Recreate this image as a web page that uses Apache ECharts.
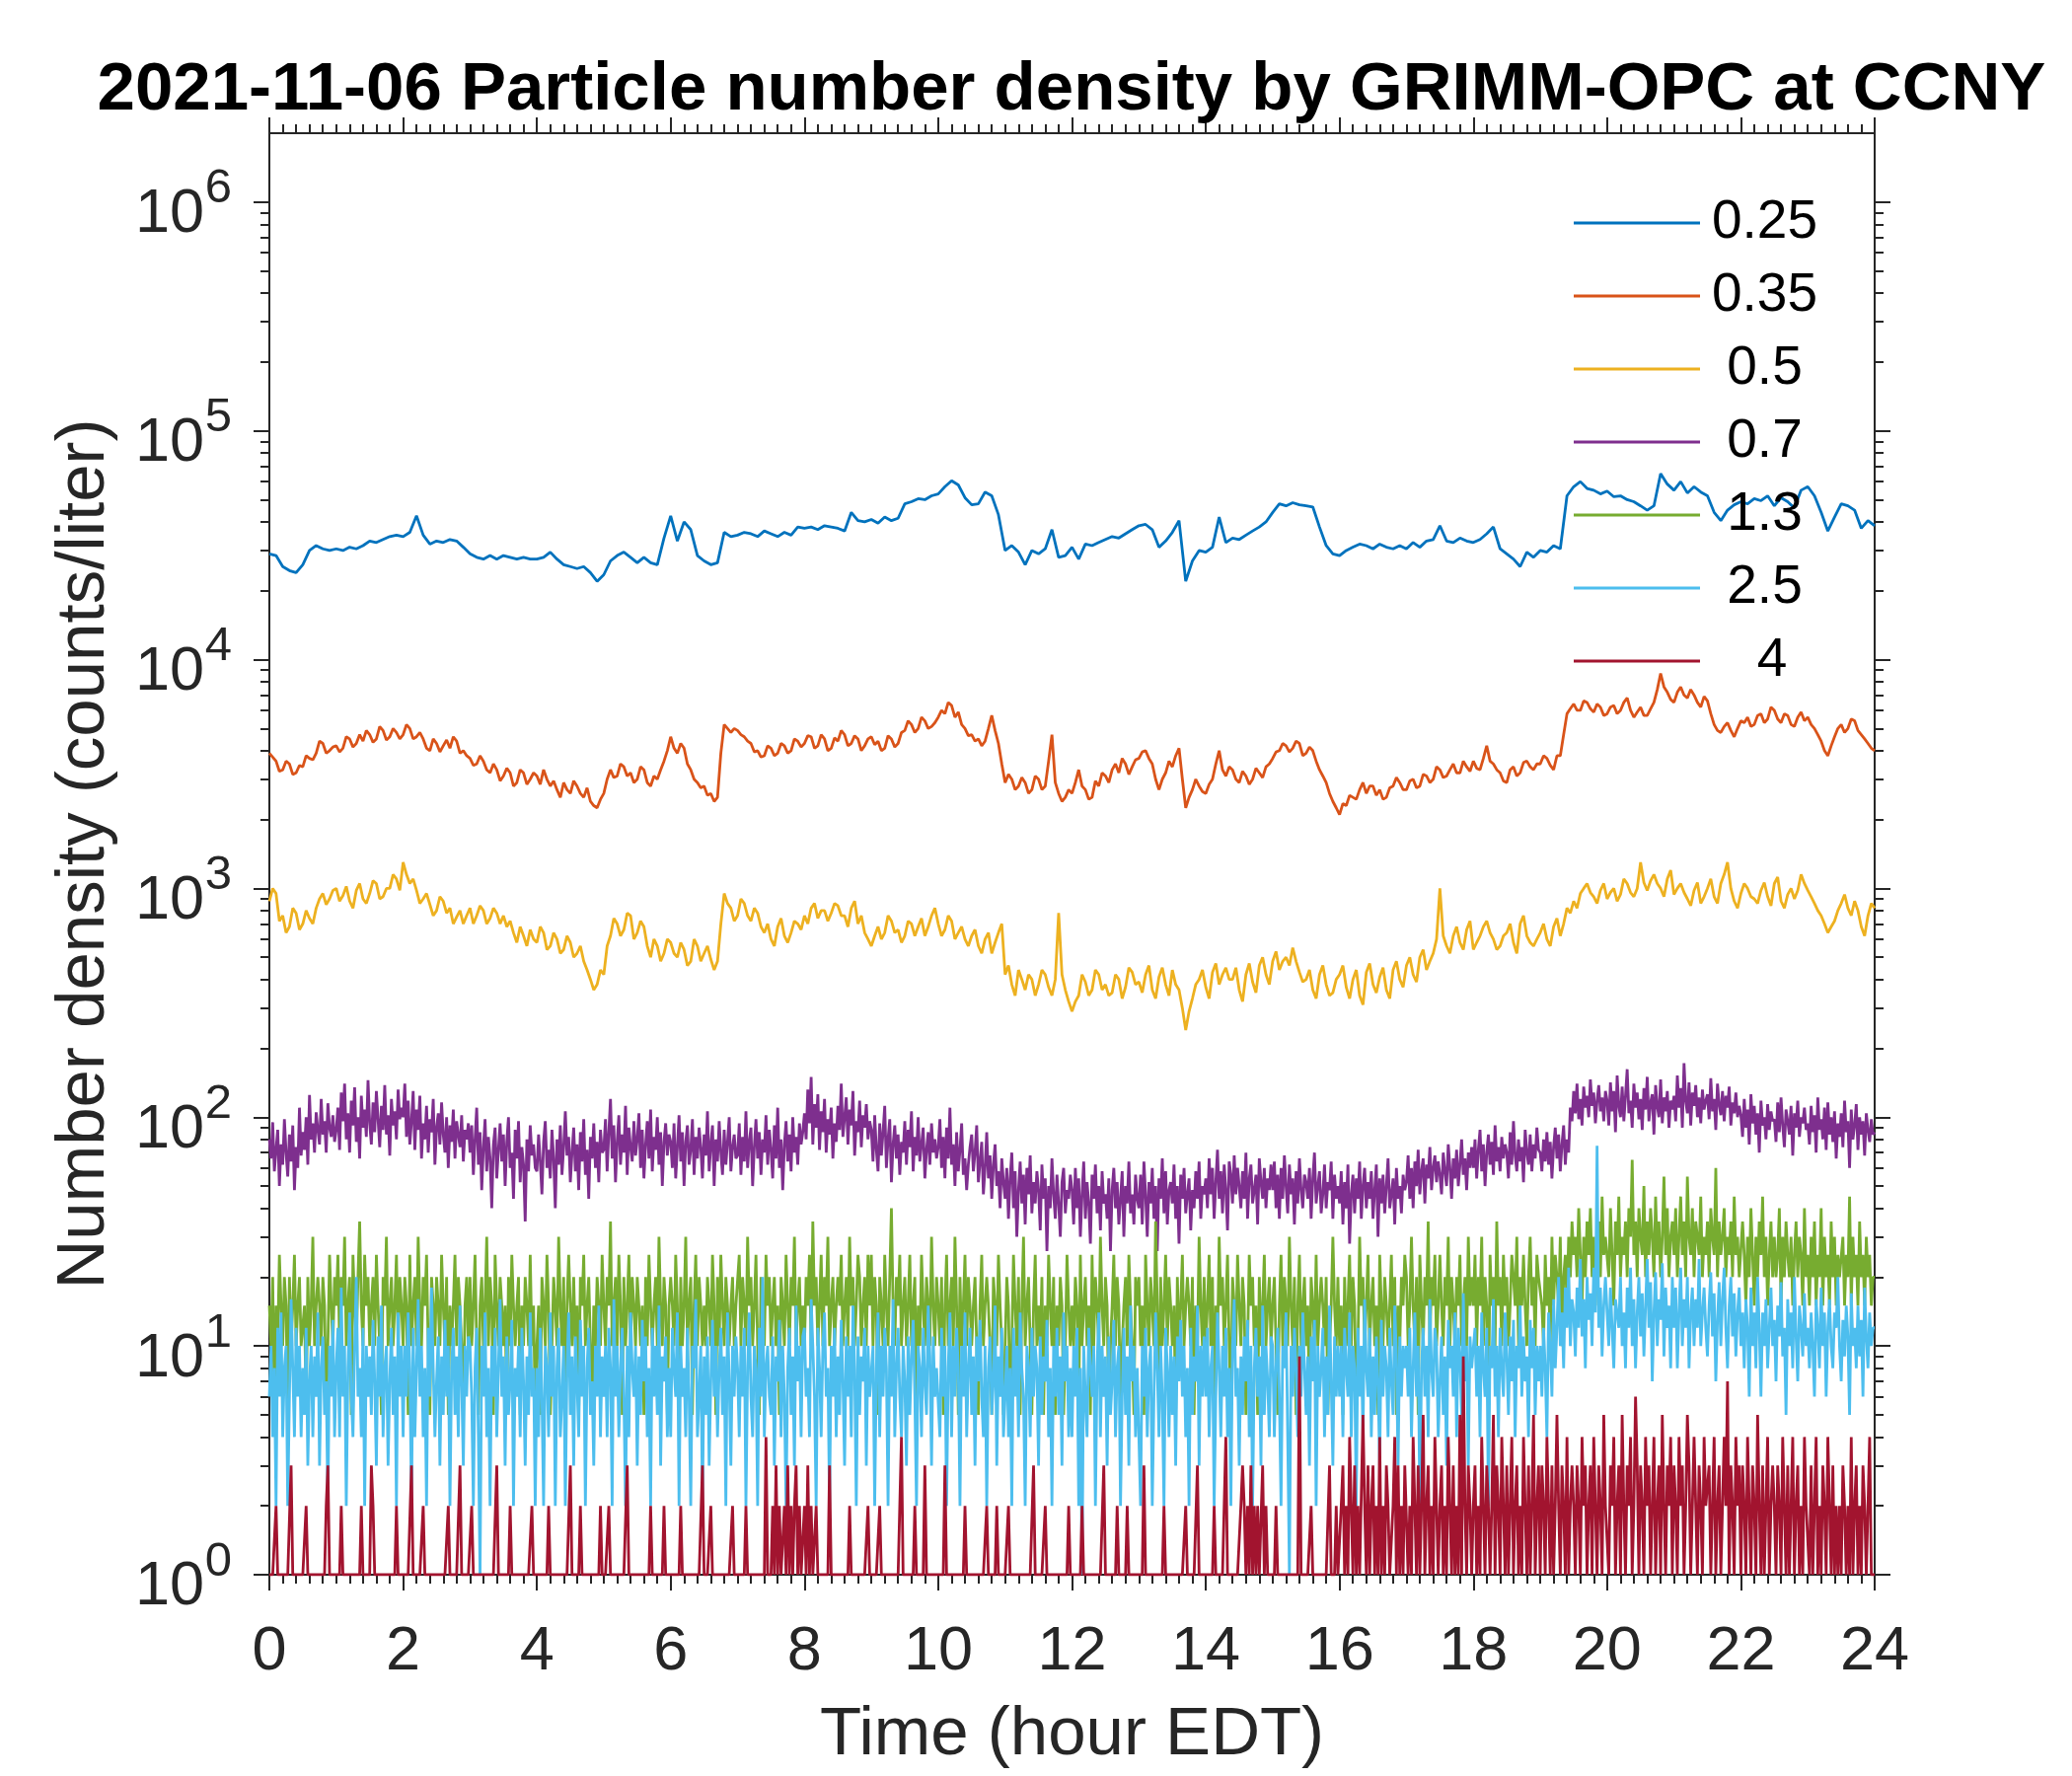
<!DOCTYPE html>
<html><head><meta charset="utf-8">
<script src="https://cdn.jsdelivr.net/npm/echarts@6.0.0/dist/echarts.min.js"></script>
<style>html,body{margin:0;padding:0;background:#fff}#c{width:2100px;height:1800px}</style>
</head><body><div id="c"></div><script>
// ---------- DATA ----------
// hours between successive samples of each channel (series order below)
const seriesSteps = [0.1, 0.05, 0.05, 0.025, 0.025, 0.025, 0.025];
const seriesNames = ['0.25', '0.35', ' 0.5', ' 0.7', ' 1.3', ' 2.5', '   4'];
const xTicks = [0, 2, 4, 6, 8, 10, 12, 14, 16, 18, 20, 22, 24];
const yMajorTicks = [1, 10, 100, 1000, 10000, 100000, 1000000];

const d025 = [
29000,28500,25500,24500,24000,26000,30000,31500,30500,30000,
30500,30000,31000,30500,31500,33000,32500,33500,34500,35000,
34500,36000,42500,35000,32000,33000,32500,33500,33000,31000,
29000,28000,27500,28500,27500,28500,28000,27500,28000,27500,
27500,28000,29500,27500,26000,25500,25000,25500,24000,22000,
23500,27000,28500,29500,28000,26500,28000,26500,26000,34000,
42500,33000,40000,37000,28500,27000,26000,26500,36000,34500,
35000,36000,35500,34500,36500,35500,34500,36000,35000,38000,
37500,38000,37000,38500,38000,37500,36500,44000,40500,40000,
41000,39500,42000,40500,41500,48000,49000,50500,50000,52000,
53000,57000,60500,58000,51000,47500,48000,54000,52000,43000,
30000,31500,29500,26000,30000,29000,30500,37000,28000,28500,
31000,27500,32000,31500,32500,33500,34500,34000,35500,37000,
38500,39000,37000,31000,33000,36000,40500,22000,27000,30000,
29500,31000,42000,32500,34000,33500,35000,36500,38000,40000,
44000,48000,47000,48500,47500,47000,46500,38000,31500,29000,
28500,30000,31000,32000,31500,30500,32000,31000,30500,31500,
30500,32500,31000,33000,33500,38500,33000,32500,34000,33000,
32500,33500,35500,38000,30500,29000,27500,25500,29500,28000,
30000,29500,31500,30500,52000,57000,60000,56000,55000,53000,
54500,51500,52000,50000,49000,47000,45000,47000,65000,58500,
55000,60000,53500,57000,54000,52000,44000,40500,45000,47500,
49000,48000,50500,49500,52000,47000,51000,49000,46000,55000,
57000,52000,44000,36500,42000,48000,47000,45000,37500,40500,
38500];

const d035 = [
3900,3750,3600,3250,3300,3600,3500,3150,3200,3450, 3400,3800,3700,3650,3900,4400,4300,3900,4000,4150,
4200,3950,4100,4600,4500,4150,4300,4700,4400,4900, 4700,4350,4500,5100,4900,4450,4600,5000,4800,4500,
4700,5200,5000,4500,4600,4800,4500,4100,4000,4500, 4300,3950,4200,4450,4100,4600,4400,3900,4000,3800,
3700,3450,3500,3800,3600,3300,3200,3500,3300,2950, 3100,3350,3200,2800,2900,3300,3200,2850,3000,3200,
3100,2850,3300,3000,2800,2950,2700,2500,2900,2700, 2600,2950,2800,2600,2500,2750,2400,2300,2250,2450,
2600,3000,3300,3050,3100,3500,3400,3100,3200,2900, 3000,3400,3300,2900,2800,3100,3000,3300,3600,4000,
4600,4100,3900,4300,4100,3500,3300,3000,2900,2750, 2800,2550,2600,2400,2500,3900,5200,5000,4800,5000,
4900,4700,4600,4400,4300,3950,4000,3750,3800,4200, 4100,3800,3900,4300,4200,3900,4000,4500,4400,4150,
4300,4650,4600,4100,4200,4700,4500,4000,4100,4550, 4400,4900,4700,4200,4300,4650,4500,4000,4200,4500,
4600,4250,4400,4000,4100,4650,4500,4150,4300,4800, 4900,5400,5200,4800,5000,5600,5400,5000,5100,5300,
5600,6000,5800,6500,6300,5600,5900,5200,5000,4650, 4700,4400,4500,4200,4400,5000,5700,4900,4300,3500,
2900,3150,3000,2700,2800,3050,2900,2600,2700,3100, 3000,2700,2800,3600,4700,2900,2600,2400,2500,2700,
2600,2900,3300,2800,2700,2450,2500,2950,2800,3200, 3100,2900,3300,3500,3200,3700,3500,3150,3400,3650,
3700,3950,4000,3700,3500,3000,2700,3000,3200,3600, 3400,3800,4100,3000,2250,2500,2700,3000,2800,2650,
2600,2850,3000,3500,4000,3300,3100,3400,3300,3000, 2900,3250,3100,2850,3000,3350,3200,3050,3400,3500,
3700,3950,4000,4300,4200,3950,4100,4400,4300,3800, 3900,4150,4000,3600,3300,3100,2900,2600,2400,2250,
2100,2350,2300,2550,2500,2450,2700,2900,2600,2800, 2800,2550,2700,2450,2500,2750,2800,3050,2900,2700,
2700,2950,3000,2750,2800,3150,3100,2900,3000,3400, 3300,3050,3100,3300,3500,3200,3200,3600,3400,3250,
3600,3350,3300,3700,4200,3600,3500,3300,3200,2950, 2900,3300,3400,3100,3200,3550,3600,3400,3300,3500,
3500,3800,3700,3450,3300,3800,3800,4700,5800,6100, 6400,6000,6000,6600,6500,6100,5900,6400,6200,5700,
5800,6200,6300,5800,6000,6500,6800,6000,5600,5900, 6200,5700,5700,6100,6500,7400,8700,7600,7200,6700,
6500,7200,7600,7000,6800,7400,7000,6500,6200,6900, 6600,5800,5200,4900,4800,5100,5300,4900,4600,5000,
5400,5300,5600,5100,5200,5700,5800,5300,5500,6200, 6000,5500,5300,5800,5700,5200,5100,5600,5900,5400,
5600,5200,5000,4700,4400,4000,3800,4200,4600,5000, 5200,4800,5000,5500,5400,4900,4700,4500,4300,4100,
4000];

const d05 = [
880,1000,950,720,760,640,680,820,780,660, 700,800,740,700,820,900,950,850,900,980,
1000,880,930,1020,880,820,980,1050,900,860, 950,1080,1050,900,920,1000,1000,1150,1100,980,
1300,1150,1050,1100,980,860,900,950,850,760, 800,920,880,780,820,700,750,800,700,760,
820,700,760,840,800,700,740,820,780,700, 760,680,720,640,580,680,620,560,660,600,
580,680,640,540,560,640,600,520,540,620, 580,500,520,560,480,440,400,360,380,440,
420,560,620,740,700,620,660,780,760,600, 640,720,680,560,500,600,560,480,520,600,
580,520,500,580,540,460,480,600,560,480, 520,560,490,440,480,700,950,860,820,720,
760,900,860,760,720,820,780,680,640,700, 600,560,680,740,620,580,640,720,700,660,
760,700,820,860,740,800,800,720,780,860, 840,760,760,680,820,880,700,760,640,600,
560,620,680,600,640,760,720,640,660,580, 620,720,700,620,680,740,620,680,760,820,
700,620,660,760,720,600,640,680,600,560, 620,660,560,520,600,640,520,580,640,700,
420,460,380,340,440,400,360,420,400,340, 380,440,420,370,340,400,780,420,360,320,
290,320,340,420,390,340,360,440,420,360, 380,340,350,420,400,330,370,450,430,380,
390,350,420,460,360,330,410,450,380,340, 440,380,360,300,240,290,330,380,400,440,
370,330,430,470,380,420,450,400,400,450, 360,320,420,470,390,350,460,500,420,380,
480,530,440,480,500,460,550,480,430,390, 400,440,360,330,420,460,380,340,350,400,
420,460,370,330,400,440,340,310,430,470, 380,350,410,450,360,330,440,480,400,370,
460,500,420,390,500,540,440,480,520,600, 1000,620,560,520,620,680,580,540,660,720,
540,580,620,680,720,640,600,540,560,620, 640,700,580,520,700,760,620,580,560,600,
640,700,600,560,680,740,620,700,820,780, 880,820,950,1000,1050,960,920,860,980,1050,
900,960,1000,880,940,1100,1050,960,920,1000, 1300,1060,980,1080,1150,1050,1000,920,1100,1200,
940,1000,1050,960,900,840,980,1060,860,920, 1000,1100,920,860,1050,1150,1300,1000,880,820,
950,1050,1000,920,900,860,980,1060,920,840, 1050,1120,880,820,940,1000,900,980,1150,1050,
980,920,860,800,760,700,640,680,720,800, 860,940,820,760,880,800,680,620,760,860,
820];

const d07 = [
80,66,95,58,72,88,50,76,62,98, 70,55,84,64,92,48,74,60,110,68, 86,72,100,62,125,80,94,70,105,88, 76,120,84,96,70,115,90,82,102,78,
88,110,72,128,96,140,80,104,70,118, 92,135,78,100,66,124,90,108,82,145, 94,76,116,86,130,98,74,112,88,138, 84,102,68,120,92,106,80,132,98,110,
100,140,82,118,76,96,130,72,108,88, 124,66,94,80,112,70,98,86,120,62, 90,104,76,116,84,70,100,60,92,78, 108,66,96,84,74,102,64,88,80,94,
70,92,56,80,110,62,86,48,74,98, 58,82,66,40,76,90,54,72,94,64, 84,50,78,100,60,70,44,88,66,96, 52,74,62,35,80,58,92,68,76,60,
58,84,64,46,78,96,60,72,54,88, 66,40,80,62,92,56,74,106,68,82, 52,70,90,58,76,48,86,64,98,56, 72,44,82,66,94,60,78,52,88,70,
72,98,58,86,120,66,92,52,78,102, 62,84,70,112,56,90,74,64,96,68, 80,104,60,88,54,76,96,66,108,58, 82,72,100,62,86,50,78,94,68,84,
78,60,94,54,74,102,64,86,50,78, 92,62,72,98,56,82,66,90,74,54, 84,68,106,58,76,92,50,80,64,96, 70,56,88,62,78,100,58,74,84,66,
68,94,56,82,64,106,60,78,90,50, 74,98,66,86,56,80,70,102,62,88, 72,54,92,66,110,60,80,48,76,96, 64,84,58,100,70,82,62,94,76,86,
104,80,132,94,150,76,114,90,126,72, 106,86,120,70,98,84,110,66,94,78, 112,88,140,82,100,122,76,108,92,130, 68,96,86,118,74,102,90,114,80,96,
88,64,102,72,58,94,68,86,112,60, 80,98,52,76,92,66,84,56,78,70, 96,62,88,74,106,58,82,68,100,64, 76,90,54,72,86,62,94,70,80,66,
74,98,60,82,54,90,66,110,62,76, 50,86,58,72,94,56,66,48,62,74, 84,58,70,92,52,64,78,46,60,86, 54,68,44,62,76,50,58,40,66,52,
44,60,36,54,70,40,58,30,48,64, 42,56,34,60,46,68,38,52,42,58, 48,32,62,44,54,26,50,40,66,46, 36,56,42,30,52,60,38,48,44,56,
48,34,60,40,54,30,46,64,36,52, 42,28,56,44,62,38,50,32,58,42, 46,36,54,26,48,60,40,52,34,44, 58,30,50,42,64,38,46,34,56,44,
40,56,34,64,46,30,52,42,60,36, 50,26,54,44,66,38,58,34,48,52, 42,62,36,50,28,56,44,60,38,46, 54,32,48,40,58,44,64,36,50,46,
54,40,66,46,60,36,52,72,44,58, 38,62,48,32,64,56,42,68,46,60, 50,40,58,44,70,36,54,62,42,48, 56,34,66,52,44,60,40,54,48,62,
48,64,40,56,36,60,44,68,50,38, 62,46,54,34,58,42,66,48,40,56, 52,44,60,36,54,70,42,50,58,38, 46,62,40,52,48,64,36,56,44,50,
42,58,34,52,40,62,28,46,56,38, 54,44,64,36,50,60,40,52,44,58, 36,48,62,30,54,42,56,38,50,66, 40,46,54,34,60,44,50,38,56,48,
52,68,44,60,40,64,50,72,46,58, 66,42,62,54,74,48,60,68,52,64, 56,46,70,58,50,76,60,44,66,54, 72,50,62,80,56,66,48,70,60,74,
60,80,54,72,88,58,76,50,70,84, 62,78,56,92,64,74,58,82,66,76, 70,54,86,62,96,68,58,80,64,74, 52,88,70,62,84,58,76,66,90,72,
70,58,80,64,86,62,78,54,74,90, 66,84,58,76,92,62,80,70,110,96, 130,104,140,98,120,92,136,110,124,100, 146,112,128,94,118,138,106,122,96,130,
118,92,142,106,130,86,152,112,100,136, 96,124,162,104,118,90,140,110,128,98, 120,88,134,108,150,96,116,126,84,138, 112,100,146,94,122,106,130,90,118,108,
124,96,152,110,134,90,172,118,104,142, 92,128,112,138,100,122,94,132,108,118, 126,98,148,106,120,88,140,114,102,130, 96,124,110,136,92,116,104,128,100,112,
102,82,120,90,108,76,126,94,112,84, 104,70,118,92,100,80,114,88,106,96, 98,78,116,86,122,92,74,108,96,84, 112,68,104,90,118,82,100,94,110,88,
94,76,112,86,102,70,122,88,98,80, 110,72,116,84,100,78,106,66,94,82, 104,74,118,86,96,60,108,80,92,114, 72,100,84,96,68,104,88,78,98,84,
86];

const d13 = [
15,10,20,5,15,10,25,15,10,20, 15,5,20,10,15,25,10,15,20,10, 10,15,5,20,10,15,30,10,15,20, 15,10,20,15,5,10,25,15,10,20,
15,25,10,20,15,30,10,15,20,5, 25,15,10,20,35,15,10,25,15,20, 10,15,20,10,25,15,10,5,20,15, 30,10,15,20,10,15,25,10,20,15,
10,20,15,5,25,10,15,20,10,30, 15,10,20,15,25,10,5,20,15,10, 20,15,10,25,15,10,20,5,15,10, 15,25,10,20,15,10,5,15,20,10,
20,10,15,25,10,5,15,20,10,15, 30,10,20,15,5,25,15,10,20,15, 10,15,5,20,10,25,15,10,15,20, 5,15,10,20,15,10,25,10,15,5,
10,15,5,20,15,10,25,15,5,10, 20,15,10,30,15,10,20,5,15,25, 15,10,20,10,15,5,20,15,25,10, 15,20,10,5,15,10,20,15,10,25,
15,10,20,15,35,10,15,20,10,25, 15,5,20,10,15,25,10,20,15,10, 20,15,10,15,5,20,10,25,15,10, 15,20,10,30,15,10,20,15,5,15,
20,15,10,25,15,5,20,10,15,30, 10,15,20,5,15,25,10,20,15,10, 15,10,20,15,10,25,15,5,20,10, 25,15,10,20,15,10,15,20,10,15,
15,25,10,20,15,10,30,15,20,10, 15,25,10,5,20,15,10,25,15,20, 10,15,20,10,15,5,20,15,10,25, 15,10,20,15,30,10,15,20,10,15,
10,20,15,25,10,35,15,20,10,15, 25,10,20,15,30,10,15,20,10,15, 20,15,25,10,15,20,10,30,15,20, 10,15,25,20,10,15,20,10,25,15,
25,10,20,15,5,20,15,10,25,15, 10,20,40,15,10,20,15,25,10,15, 20,10,15,25,10,15,20,5,15,10, 25,15,10,20,15,10,30,15,10,20,
15,10,20,5,15,25,10,15,20,10, 30,15,5,20,10,15,25,10,20,15, 10,15,20,10,5,15,25,10,15,20, 15,10,5,20,15,10,25,15,10,5,
10,20,15,5,10,25,15,10,20,5, 15,30,10,15,20,10,5,15,25,10, 15,10,20,5,15,10,25,15,10,20, 5,15,10,20,15,5,10,25,15,10,
15,10,20,15,5,25,10,15,20,10, 15,5,25,10,20,15,10,30,15,10, 20,15,5,10,15,25,10,20,15,5, 10,15,20,10,25,15,10,5,20,15,
20,10,15,5,25,15,10,20,15,10, 35,15,5,20,10,15,25,10,20,15, 10,15,5,20,10,15,25,10,15,20, 15,10,20,5,15,10,30,15,10,20,
10,15,25,10,20,5,15,10,30,15, 20,10,15,25,10,5,20,15,10,25, 15,10,20,15,5,10,25,15,20,10, 15,5,20,10,15,25,10,15,20,10,
15,20,10,5,15,25,10,20,15,10, 30,15,10,20,5,15,25,10,15,20, 10,15,5,20,15,10,25,10,15,20, 15,10,20,5,10,15,30,15,10,20,
10,15,5,20,10,15,25,10,20,15, 5,10,30,15,20,10,15,25,10,15, 20,10,15,5,25,15,10,20,15,10, 15,25,10,20,5,15,10,20,15,25,
20,10,15,30,15,10,20,5,25,15, 10,20,15,35,10,20,15,25,10,15, 25,15,10,20,15,30,10,20,15,10, 20,15,25,10,15,20,10,30,15,20,
15,25,10,20,15,30,10,20,15,5, 25,15,20,10,35,15,20,10,25,15, 20,10,15,25,20,15,30,10,20,15, 25,15,10,20,30,15,20,10,25,20,
20,15,10,25,15,20,10,30,15,25, 20,15,30,10,20,25,15,30,20,35, 25,30,20,40,25,15,30,20,35,25, 40,20,30,15,25,35,20,45,25,30,
30,20,40,25,15,35,25,45,20,30, 25,35,20,40,30,65,25,35,20,40, 30,25,50,20,35,25,40,30,20,45, 25,35,20,30,55,25,40,20,30,35,
25,40,20,30,45,25,35,20,55,30, 25,40,20,35,30,25,45,20,30,25, 35,20,40,30,25,60,20,35,25,30, 40,20,30,25,35,20,45,25,30,20,
20,35,25,15,30,20,40,25,15,30, 20,35,25,45,20,30,15,25,35,20, 30,20,25,40,15,30,20,35,25,20, 30,15,25,35,20,30,25,15,40,20,
25,15,30,20,35,15,25,20,40,15, 30,20,25,15,35,20,30,15,25,20, 20,30,15,25,20,45,15,30,20,25, 15,35,20,25,15,30,20,25,15,20,
20];

const d25 = [
6,10,4,8,2,12,6,14,4,8, 10,2,6,16,8,4,12,6,10,4, 8,5,12,3,7,10,4,9,6,14, 3,8,11,5,7,2,10,6,13,4,
8,12,4,18,6,10,2,8,14,6, 4,10,20,6,8,4,12,2,10,6, 9,5,13,7,3,11,6,15,4,8, 10,3,7,12,5,9,2,14,6,10,
4,10,6,14,8,2,12,4,8,16, 6,10,4,8,2,12,6,18,8,4, 7,11,3,9,5,13,6,10,2,8, 12,5,9,4,15,7,3,10,6,11,
10,6,2,8,12,4,1,10,6,14, 4,8,2,10,6,12,4,8,16,6, 9,3,11,5,7,13,2,8,6,10, 4,12,7,3,9,5,14,6,8,2,
8,4,12,6,2,10,8,4,14,6, 10,2,8,12,4,6,10,2,8,14, 5,9,3,11,7,4,13,6,10,2, 8,12,5,7,3,10,6,15,4,9,
6,10,4,12,8,2,16,6,10,4, 8,12,6,2,10,4,14,8,6,10, 3,9,5,13,7,11,4,8,2,12, 6,10,5,15,3,9,7,11,4,8,
4,12,8,6,14,2,10,6,8,4, 12,6,2,10,8,16,4,6,10,2, 9,5,11,3,7,13,6,10,4,8, 12,5,9,2,14,7,3,10,6,11,
8,4,10,6,12,2,8,14,6,4, 10,8,2,12,6,20,4,8,10,6, 5,11,3,9,7,13,4,10,6,2, 8,12,5,9,3,15,7,10,4,11,
12,6,8,4,16,10,6,2,12,8, 4,10,14,6,8,2,10,6,12,4, 9,5,13,7,3,11,6,10,4,15, 8,2,11,5,9,7,12,3,10,6,
6,10,2,8,14,4,10,6,12,8, 2,10,6,16,4,8,12,6,4,10, 7,3,11,5,9,13,6,2,10,8, 4,12,7,5,15,9,3,11,6,8,
8,4,12,6,10,2,8,14,4,10, 6,12,8,2,10,6,14,4,8,12, 5,9,3,11,7,13,6,4,10,2, 8,11,5,7,15,3,9,6,12,4,
6,10,4,8,2,12,6,10,4,14, 8,6,2,10,8,4,12,6,10,8, 3,11,5,9,7,13,4,8,2,10, 6,12,5,9,3,14,7,10,4,8,
4,10,6,12,2,8,1,10,6,4, 12,8,6,10,2,8,14,4,10,6, 9,3,11,5,7,13,4,8,10,2, 6,12,5,9,3,15,7,10,4,8,
8,2,10,6,12,4,8,10,2,6, 14,8,4,10,6,2,12,8,4,10, 5,9,3,11,7,13,6,10,4,8, 2,12,5,9,7,15,3,10,6,11,
6,12,4,8,10,2,6,14,8,4, 10,6,12,4,8,2,10,16,6,8, 3,9,5,11,7,13,4,10,2,8, 12,6,9,3,15,5,10,7,4,11,
10,4,8,12,6,2,10,8,14,4, 1,10,6,12,8,4,10,6,14,8, 5,9,3,11,7,13,2,10,6,8, 12,4,9,5,15,7,3,11,6,10,
6,10,4,12,8,6,14,4,10,8, 2,12,6,10,4,16,8,6,12,4, 9,5,11,7,3,13,6,10,8,4, 12,7,5,15,9,3,11,6,10,8,
10,6,12,4,8,14,6,10,2,8, 12,6,10,4,16,8,6,12,10,4, 7,11,5,9,3,13,8,10,6,14, 4,12,9,5,17,7,10,3,11,8,
8,12,6,10,4,14,8,6,12,2, 10,8,16,6,10,4,12,8,6,14, 9,5,11,7,13,4,10,8,15,6, 11,7,9,4,13,8,12,5,10,7,
10,6,12,8,4,14,10,6,16,8, 12,20,10,14,8,18,12,22,10,16, 14,9,18,12,24,11,16,8,20,13, 17,10,22,14,75,12,18,9,15,20,
14,10,18,12,8,16,16,12,20,10, 14,8,18,12,22,10,16,8,14,20, 11,17,9,15,24,12,19,7,14,21, 10,16,13,23,9,18,12,15,8,20,
12,18,8,14,22,10,16,12,20,8, 14,18,10,16,12,24,10,14,18,12, 9,15,21,11,17,7,13,19,10,16, 22,12,8,15,20,11,17,9,14,18,
10,14,8,16,12,6,18,10,14,8, 20,12,6,14,10,16,8,12,18,10, 13,7,15,11,19,9,12,5,16,10, 14,8,20,11,7,15,12,9,17,10,
12,8,14,10,6,16,12,8,18,10, 14,6,12,16,10,8,14,12,20,10, 7,13,9,15,11,5,17,10,12,8, 15,9,13,6,18,11,8,14,10,12,
12];

const d4 = [
1,1,1,1,2,1,1,1,1,1, 1,1,1,3,1,1,1,1,1,1, 1,1,2,1,1,1,1,1,1,1, 1,1,1,1,2,3,1,1,1,1,
1,1,1,2,1,1,1,1,1,1, 1,1,1,1,1,2,1,1,1,1, 1,3,2,1,1,1,1,1,1,1, 1,1,1,1,1,1,2,1,1,1,
1,1,1,1,1,3,1,1,1,1, 1,1,2,1,1,1,1,1,1,1, 1,1,1,1,1,1,1,2,1,1, 1,1,1,1,3,1,1,1,1,1,
1,2,1,1,1,1,1,1,1,1, 1,1,1,1,1,1,3,1,1,1, 1,1,1,1,2,1,1,1,1,1, 1,1,1,1,1,1,1,2,1,1,
1,1,1,1,1,1,1,2,1,1, 1,1,1,1,1,1,1,1,1,1, 3,1,1,1,1,1,2,1,1,1, 1,1,1,1,1,1,1,1,2,1,
1,1,1,2,1,1,1,1,1,1, 1,1,1,1,3,1,1,1,1,1, 1,1,1,1,1,1,1,1,2,1, 1,1,1,1,1,1,2,1,1,1,
1,1,1,1,1,1,2,1,1,1, 1,1,1,1,1,1,1,1,1,3, 1,1,1,1,2,1,1,1,1,1, 1,1,1,1,1,1,1,2,1,1,
1,1,1,1,1,2,1,1,1,1, 1,1,1,1,1,1,1,4,1,1, 1,2,1,3,1,2,1,1,2,1, 3,1,2,1,2,3,1,2,1,1,
2,1,3,1,2,1,1,2,1,1, 1,1,1,1,1,3,1,1,1,1, 1,1,1,1,1,1,1,2,1,1, 1,1,1,1,1,1,1,1,2,1,
1,1,1,1,1,2,1,1,1,1, 1,1,1,1,1,1,1,1,4,1, 1,1,1,1,1,1,2,1,1,1, 1,1,3,1,1,1,1,1,1,1,
1,1,1,1,3,1,1,1,1,1, 1,1,1,1,1,1,2,1,1,1, 1,1,1,1,1,1,1,1,1,2, 1,1,1,1,1,2,1,1,1,1,
1,1,2,1,1,1,1,1,1,1, 1,1,1,1,1,1,1,3,1,1, 1,1,1,1,2,1,1,1,1,1, 1,1,1,1,1,1,1,1,2,1,
1,1,1,1,1,1,2,1,1,1, 1,1,1,1,1,1,1,1,1,3, 1,1,1,1,1,1,1,2,1,1, 1,1,1,2,1,1,1,1,1,1,
1,1,1,3,1,1,1,1,1,1, 1,1,1,1,1,2,1,1,1,1, 1,1,1,1,1,1,1,1,2,1, 1,1,1,1,1,3,1,1,1,1,
1,1,1,1,1,2,1,1,1,1, 1,1,4,1,1,1,1,1,1,1, 1,2,3,2,1,2,1,3,1,2, 1,2,1,1,3,1,2,1,1,1,
1,1,2,1,1,1,1,1,1,1, 1,1,1,1,1,1,9,1,1,1, 1,1,1,2,1,1,1,1,1,1, 1,1,1,1,3,1,1,1,2,1,
1,2,3,1,2,1,4,2,1,3, 1,2,1,1,5,2,1,3,1,2, 3,1,2,1,4,1,2,1,3,2, 1,1,2,4,1,3,1,2,1,3,
3,1,2,1,4,2,1,3,1,2, 5,1,2,3,1,2,1,4,2,1, 2,3,1,2,1,4,2,1,3,1, 2,1,5,1,9,2,1,3,2,1,
2,3,1,2,1,4,2,1,3,2, 1,2,5,1,3,2,1,4,2,1, 3,1,2,4,1,2,3,1,2,1, 4,2,1,3,1,2,5,1,2,3,
1,3,2,1,4,2,1,3,1,2, 5,2,1,3,2,1,4,1,2,3, 2,1,3,2,1,4,2,3,1,2, 3,1,4,2,1,3,2,1,5,2,
2,1,3,2,4,1,2,3,1,5, 2,1,3,2,4,1,2,6,3,1, 3,2,1,4,2,3,1,2,4,1, 2,3,1,5,2,1,3,2,4,1,
3,2,1,4,2,3,1,2,5,3, 1,2,4,2,1,3,2,1,4,2, 2,3,1,2,4,1,2,3,1,2, 4,2,7,1,3,2,1,4,2,3,
1,3,2,1,4,2,1,3,2,1, 5,2,1,3,1,2,4,1,2,3, 2,1,3,2,1,4,2,1,3,1, 2,4,1,2,3,1,2,1,4,2,
2,1,3,1,2,4,1,2,1,3, 2,1,4,2,1,3,1,2,1,2, 1,3,2,1,2,1,4,1,2,3, 1,2,1,3,2,1,2,4,1,1,
1];

// ---------- STYLE ----------
const FONT = "'Liberation Sans', Arial, Helvetica, sans-serif";
const AX = '#262626';
const COLORS = ['#0072BD', '#D95319', '#EDB120', '#7E2F8E', '#77AC30', '#4DBEEE', '#A2142F'];

const yMinorTicks = [];
for (let e = 0; e < 6; e++) for (let k = 2; k <= 9; k++) yMinorTicks.push(k * Math.pow(10, e));

function xAxis(pos, withLabels) {
  return {
    type: 'value', position: pos, min: 0, max: 24, interval: 2, gridIndex: 0,
    axisLine: { show: true, onZero: false, lineStyle: { color: AX, width: 2 } },
    axisTick: { show: true, inside: false, length: 16, lineStyle: { color: AX, width: 2 } },
    minorTick: { show: true, splitNumber: 10, length: 9, lineStyle: { color: AX, width: 2 } },
    splitLine: { show: false }, minorSplitLine: { show: false },
    axisLabel: { show: withLabels, fontSize: 63, fontFamily: FONT, color: AX, margin: 47, lineHeight: 63 },
    name: withLabels ? 'Time (hour EDT)' : '',
    nameLocation: 'middle', nameGap: 128,
    nameTextStyle: { fontSize: 69, fontFamily: FONT, color: AX, lineHeight: 69 }
  };
}
function yAxis(pos, opts) {
  return Object.assign({
    type: 'log', logBase: 10, min: 1, max: 2000000, position: pos, gridIndex: 0,
    axisLine: { show: false, onZero: false, lineStyle: { color: AX, width: 2 } },
    splitLine: { show: false }, minorTick: { show: false }, minorSplitLine: { show: false },
    axisLabel: { show: false }
  }, opts);
}

const series = [d025, d035, d05, d07, d13, d25, d4].map((vals, i) => {
  const step = seriesSteps[i];
  return {
    name: seriesNames[i], type: 'line', xAxisIndex: 0, yAxisIndex: 0,
    data: vals.map((v, j) => [j * step, v]),
    showSymbol: false, symbol: 'none', silent: true, animation: false, sampling: false,
    lineStyle: { color: COLORS[i], width: 2.8 }, itemStyle: { color: COLORS[i] },
    emphasis: { disabled: true }
  };
});

const chart = echarts.init(document.getElementById('c'), null, { renderer: 'canvas', width: 2100, height: 1800 });
chart.setOption({
  backgroundColor: '#ffffff',
  animation: false,
  title: {
    text: '2021-11-06 Particle number density by GRIMM-OPC at CCNY',
    left: 1086, top: 57, padding: 0, textAlign: 'center',
    textStyle: { fontSize: 69, fontWeight: 'bold', color: '#000', fontFamily: FONT, lineHeight: 69 }
  },
  legend: {
    orient: 'vertical', left: 1595, top: 189, padding: 0,
    itemWidth: 128, itemHeight: 3, itemGap: 0, icon: 'rect',
    selectedMode: false, data: seriesNames,
    textStyle: { fontSize: 55, fontFamily: FONT, color: '#000', lineHeight: 74, padding: [0, 0, 0, 7] }
  },
  grid: { left: 273, top: 135, width: 1627, height: 1461, containLabel: false, outerBoundsMode: 'none' },
  xAxis: [xAxis('bottom', true), xAxis('top', false)],
  yAxis: [
    yAxis('left', {
      axisLine: { show: true, onZero: false, lineStyle: { color: AX, width: 2 } },
      axisTick: { show: true, inside: false, length: 16, customValues: yMajorTicks, lineStyle: { color: AX, width: 2 } },
      axisLabel: { show: true, customValues: yMajorTicks, formatter: () => '10', fontSize: 63, fontFamily: FONT,
        color: AX, margin: 66, lineHeight: 26, verticalAlign: 'top' },
      name: 'Number density (counts/liter)', nameLocation: 'middle', nameGap: 153,
      nameTextStyle: { fontSize: 69, fontFamily: FONT, color: AX, lineHeight: 69 }
    }),
    yAxis('left', {
      axisTick: { show: true, inside: false, length: 9, customValues: yMinorTicks, lineStyle: { color: AX, width: 2 } },
      axisLabel: { show: true, customValues: yMajorTicks, formatter: v => String(Math.round(Math.log10(v))),
        fontSize: 49, fontFamily: FONT, color: AX, margin: 38, lineHeight: 26, verticalAlign: 'bottom' }
    }),
    yAxis('right', {
      axisLine: { show: true, onZero: false, lineStyle: { color: AX, width: 2 } },
      axisTick: { show: true, inside: false, length: 16, customValues: yMajorTicks, lineStyle: { color: AX, width: 2 } }
    }),
    yAxis('right', {
      axisTick: { show: true, inside: false, length: 9, customValues: yMinorTicks, lineStyle: { color: AX, width: 2 } }
    })
  ],
  series: series
});
</script></body></html>
